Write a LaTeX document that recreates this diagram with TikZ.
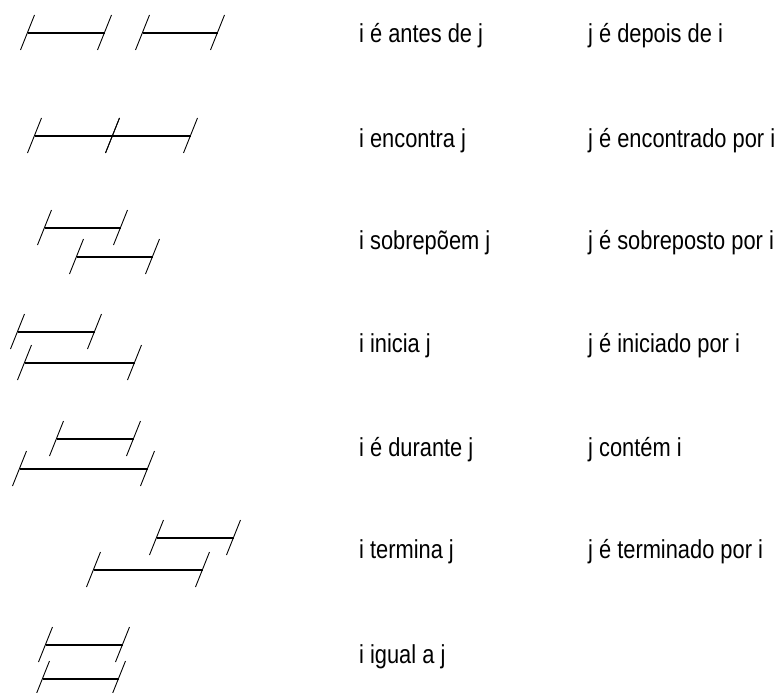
\documentclass[tikz,border=0pt]{standalone}
\usepackage{fontspec}
\setmainfont[FakeStretch=0.84]{Liberation Sans}
\usetikzlibrary{positioning}
\tikzset{
  intbar/.style={draw=black, line width=1.5pt},
  inttick/.style={draw=black, line width=0.9pt},
  reltext/.style={anchor=base west, inner sep=0pt, font=\fontsize{26}{30}\selectfont},
}

\begin{document}
\begin{tikzpicture}[x=1pt, y=-1pt]
\useasboundingbox (0,0) rectangle (780,693);

% --- intervals: start / end / height ---
\foreach \xa/\xb/\yy in {28/105/33, 143/218/33,      % antes
                         35/113/136, 113/191/136,    % encontra
                         45/121/228, 77/153/257,     % sobrepoem
                         18/95/332, 25/135/363,      % inicia
                         57/134/439, 20/148/469,     % durante
                         157/234/538, 94/203/570,    % termina
                         46/123/645, 43/119/679}     % igual
{
  \draw[intbar] (\xa,\yy) -- (\xb,\yy);
  \draw[inttick] (\xa-7.5,\yy+17) -- (\xa+6.5,\yy-18);
  \draw[inttick] (\xb-7.5,\yy+17) -- (\xb+6.5,\yy-18);
}

% --- relations ---
\node[reltext] (antes) at (359,43) {i é antes de j};
\node[reltext] (depois) at (588,43) {j é depois de i};

\node[reltext] (encontra) at (359,147) {i encontra j};
\node[reltext] (encontrado) at (588,147) {j é encontrado por i};

\node[reltext] (sobrepoe) at (359,249) {i sobrepõem j};
\node[reltext] (sobreposto) at (588,249) {j é sobreposto por i};

\node[reltext] (inicia) at (359,352) {i inicia j};
\node[reltext] (iniciado) at (588,352) {j é iniciado por i};

\node[reltext] (durante) at (359,456) {i é durante j};
\node[reltext] (contem) at (588,456) {j contém i};

\node[reltext] (termina) at (359,558) {i termina j};
\node[reltext] (terminado) at (588,558) {j é terminado por i};

\node[reltext] (igual) at (359,663) {i igual a j};

\end{tikzpicture}
\end{document}
